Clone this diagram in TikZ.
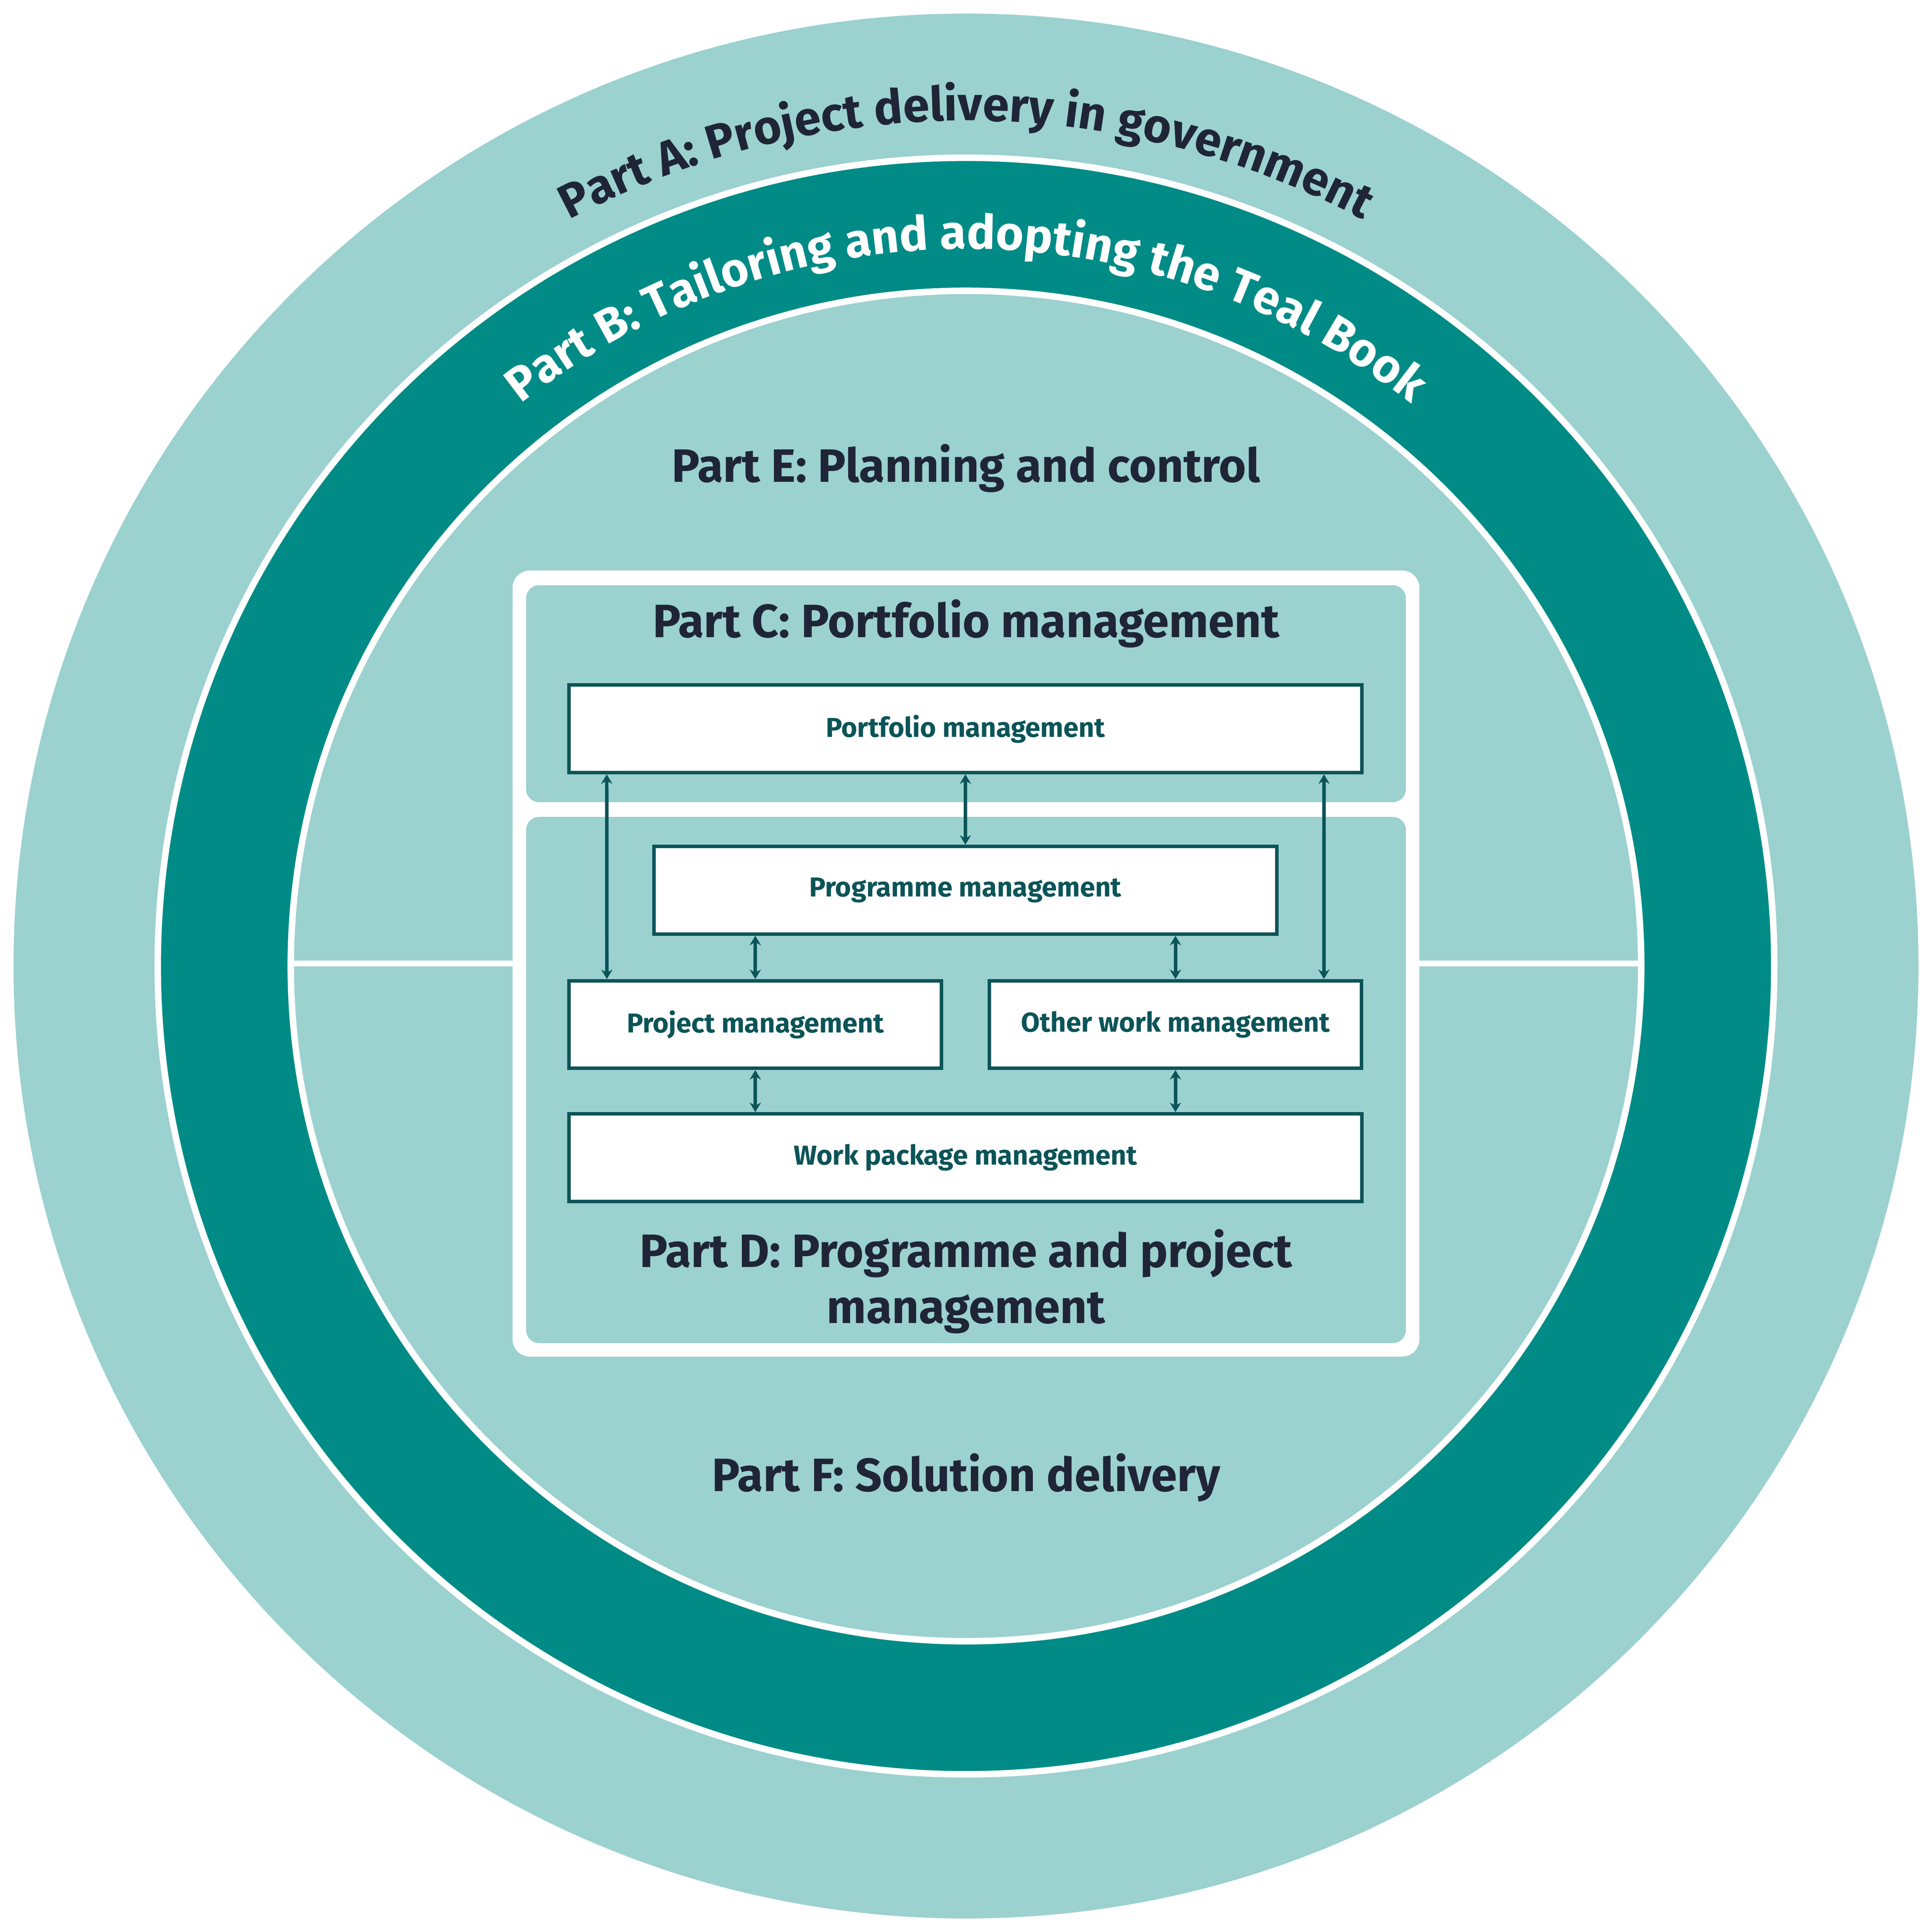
\documentclass[tikz,border=0pt]{standalone}
\usepackage{fontspec}
\setmainfont{Fira Sans}
\usetikzlibrary{decorations.text,arrows.meta}
\definecolor{lt}{HTML}{9BD1CF}
\definecolor{dk}{HTML}{008B87}
\definecolor{bx}{HTML}{0B5458}
\definecolor{tx}{HTML}{1F2537}
\begin{document}
\begin{tikzpicture}[x=0.01cm,y=-0.01cm,
  box/.style={draw=bx,line width=0.8pt,fill=white,minimum height=0.71cm,inner sep=0pt,font=\fontsize{6.3}{7}\selectfont\bfseries,text=bx},
  arr/.style={bx,line width=0.8pt,{Stealth[length=2.2pt,width=2.6pt]}-{Stealth[length=2.2pt,width=2.6pt]}},
  part/.style={text=tx,font=\fontsize{10.8}{13}\selectfont\bfseries,align=center}]
\useasboundingbox (0,0) rectangle (1568,1568);
\fill[lt] (784,784) circle (773);
\filldraw[fill=dk,draw=white,line width=1.5pt] (784,784) circle (656);
\filldraw[fill=lt,draw=white,line width=1.5pt] (784,784) circle (548);
\draw[white,line width=1.3pt] (237,782) -- (1331,782);
\fill[white,rounded corners=4pt] (416,463) rectangle (1152,1101);
\fill[lt,rounded corners=3pt] (427,475) rectangle (1141,651);
\fill[lt,rounded corners=3pt] (427,663) rectangle (1141,1090);
\path[decorate,decoration={text along path,text align=center,
  text={|\fontsize{11}{13}\selectfont\bfseries\color{tx}|Part A: Project delivery in government}}]
  (784,784) ++(198:686) arc[start angle=198,end angle=342,radius=686];
\path[decorate,decoration={text along path,text align=center,
  text={|\fontsize{11}{13}\selectfont\bfseries\color{white}|Part B: Tailoring and adopting the Teal Book}}]
  (784,784) ++(198:582) arc[start angle=198,end angle=342,radius=582];
\node[part] (pe) at (784,380) {Part E: Planning and control};
\node[part] (pc) at (784,506) {Part C: Portfolio management};
\node[part] (pd) at (784,1040) {Part D: Programme and project\\management};
\node[part] (pf) at (784,1199) {Part F: Solution delivery};
\node[box,minimum width=6.43cm] (port) at (783.5,591.5) {Portfolio management};
\node[box,minimum width=5.05cm] (prog) at (783.5,722.5) {Programme management};
\node[box,minimum width=3.02cm] (proj) at (613,831.5) {Project management};
\node[box,minimum width=3.02cm] (oth) at (954,831.5) {Other work management};
\node[box,minimum width=6.43cm] (wp) at (783.5,939.5) {Work package management};
\draw[arr] ([xshift=0.32cm]port.south west) -- ([xshift=0.32cm]proj.north west);
\draw[arr] ([xshift=-0.32cm]port.south east) -- ([xshift=-0.32cm]oth.north east);
\draw[arr] (port.south) -- (prog.north);
\draw[arr] (prog.south -| proj.north) -- (proj.north);
\draw[arr] (prog.south -| oth.north) -- (oth.north);
\draw[arr] (proj.south) -- (wp.north -| proj.south);
\draw[arr] (oth.south) -- (wp.north -| oth.south);
\end{tikzpicture}
\end{document}
